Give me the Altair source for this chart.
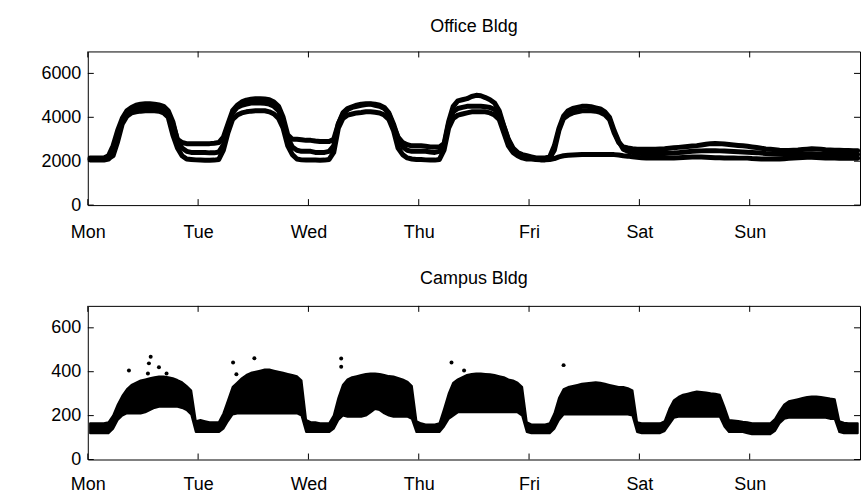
import altair as alt
import pandas as pd

# Day names shown under the weekly time axis
DAYS = ["Mon", "Tue", "Wed", "Thu", "Fri", "Sat", "Sun"]

# Office building: three overlaid weeks of hourly demand (Mon 00:00 .. Sun 23:00)
office_week_a = [
    2100, 2080, 2080, 2100, 2120, 2250, 2900, 3700, 4050, 4200, 4250, 4280, 4300, 4300, 4300, 4280, 4200, 4000, 3200, 2600, 2250, 2100, 2080, 2060,
    2050, 2040, 2040, 2050, 2080, 2500, 3300, 3900, 4100, 4200, 4250, 4280, 4300, 4300, 4300, 4250, 4150, 3950, 3500, 2700, 2300, 2100, 2060, 2050,
    2050, 2050, 2040, 2050, 2080, 2400, 3500, 3950, 4100, 4150, 4200, 4220, 4250, 4250, 4230, 4200, 4100, 3900, 3400, 2600, 2300, 2150, 2100, 2080,
    2080, 2060, 2050, 2050, 2080, 2500, 3500, 3950, 4100, 4150, 4200, 4250, 4250, 4250, 4250, 4200, 4100, 3900, 3300, 2700, 2400, 2250, 2150, 2100,
    2100, 2080, 2060, 2060, 2080, 2120, 2200, 2250, 2270, 2280, 2290, 2300, 2300, 2300, 2300, 2300, 2300, 2310, 2300, 2280, 2250, 2230, 2200, 2180,
    2160, 2150, 2140, 2140, 2140, 2140, 2140, 2150, 2160, 2170, 2180, 2190, 2190, 2190, 2180, 2170, 2160, 2160, 2150, 2150, 2150, 2140, 2140, 2140,
    2120, 2110, 2100, 2100, 2100, 2100, 2100, 2110, 2130, 2150, 2160, 2170, 2180, 2180, 2170, 2160, 2150, 2140, 2140, 2130, 2130, 2130, 2130, 2130,
]
office_week_b = [
    2150, 2150, 2150, 2150, 2250, 2700, 3400, 3950, 4300, 4450, 4550, 4600, 4620, 4620, 4600, 4560, 4500, 4300, 3800, 2950, 2600, 2450, 2400, 2400,
    2400, 2400, 2380, 2380, 2420, 2750, 3600, 4200, 4450, 4550, 4600, 4650, 4650, 4650, 4640, 4600, 4500, 4300, 3800, 3050, 2650, 2500, 2450, 2450,
    2450, 2400, 2400, 2400, 2450, 2700, 3700, 4200, 4400, 4480, 4550, 4600, 4620, 4620, 4600, 4550, 4450, 4200, 3700, 3050, 2650, 2500, 2450, 2450,
    2450, 2450, 2420, 2400, 2450, 2700, 3700, 4250, 4400, 4450, 4500, 4500, 4500, 4500, 4480, 4450, 4350, 4150, 3600, 2950, 2550, 2300, 2200, 2150,
    2150, 2100, 2100, 2100, 2150, 2500, 3400, 3950, 4100, 4200, 4250, 4300, 4300, 4300, 4280, 4220, 4120, 3900, 3300, 2850, 2650, 2600, 2570, 2550,
    2540, 2540, 2540, 2550, 2560, 2570, 2590, 2610, 2630, 2650, 2670, 2690, 2710, 2740, 2770, 2800, 2810, 2800, 2780, 2760, 2740, 2720, 2700, 2680,
    2650, 2620, 2590, 2560, 2540, 2520, 2500, 2490, 2490, 2500, 2510, 2530, 2550, 2570, 2560, 2540, 2520, 2510, 2500, 2500, 2490, 2490, 2480, 2480,
]
office_week_c = [
    2050, 2050, 2050, 2050, 2100, 2400, 3200, 3800, 4150, 4300, 4400, 4450, 4450, 4450, 4430, 4400, 4350, 4150, 3700, 3000, 2850, 2800, 2800, 2800,
    2800, 2800, 2800, 2820, 2850, 3100, 3700, 4300, 4550, 4700, 4780, 4820, 4850, 4850, 4830, 4800, 4700, 4500, 4000, 3200, 3000, 3000, 2980, 2950,
    2950, 2920, 2900, 2900, 2900, 3000, 3700, 4150, 4350, 4450, 4500, 4550, 4580, 4600, 4550, 4500, 4400, 4150, 3600, 3100, 2850, 2750, 2700, 2700,
    2700, 2680, 2650, 2650, 2650, 2800, 3800, 4500, 4750, 4800, 4850, 4950, 5000, 4980, 4900, 4800, 4650, 4300, 3600, 3000, 2600, 2400, 2300, 2250,
    2200, 2150, 2150, 2150, 2200, 2700, 3500, 4050, 4300, 4400, 4450, 4500, 4500, 4480, 4430, 4380, 4250, 4000, 3400, 2900, 2550, 2450, 2400, 2370,
    2350, 2350, 2350, 2350, 2350, 2350, 2360, 2370, 2390, 2410, 2430, 2450, 2460, 2470, 2480, 2480, 2480, 2470, 2460, 2450, 2440, 2430, 2420, 2410,
    2400, 2390, 2370, 2350, 2340, 2330, 2320, 2310, 2310, 2310, 2320, 2330, 2340, 2340, 2330, 2320, 2310, 2310, 2310, 2310, 2310, 2310, 2310, 2310,
]

# Campus building: hourly spread (lowest and highest reading) across the overlaid weeks
campus_low = [
    120, 120, 120, 120, 120, 140, 180, 200, 210, 210, 210, 210, 215, 225, 235, 240, 240, 240, 240, 240, 235, 225, 205, 125,
    125, 125, 125, 125, 125, 140, 175, 205, 210, 210, 210, 210, 210, 210, 210, 210, 210, 210, 210, 210, 210, 210, 200, 125,
    125, 125, 125, 125, 125, 140, 180, 200, 195, 195, 195, 195, 200, 215, 230, 225, 210, 200, 195, 195, 195, 195, 185, 125,
    125, 125, 125, 125, 125, 150, 185, 200, 215, 215, 215, 215, 215, 215, 215, 215, 215, 215, 215, 215, 215, 215, 200, 125,
    120, 120, 120, 120, 120, 140, 180, 205, 205, 205, 205, 205, 205, 205, 205, 205, 205, 205, 205, 205, 205, 205, 200, 125,
    120, 120, 120, 120, 120, 130, 160, 190, 195, 195, 195, 195, 195, 195, 195, 195, 195, 195, 150, 125, 125, 125, 125, 120,
    115, 115, 115, 115, 115, 130, 165, 185, 190, 190, 190, 190, 190, 190, 190, 190, 190, 185, 185, 125, 120, 120, 120, 120,
]
campus_high = [
    165, 165, 165, 165, 170, 200, 250, 290, 320, 340, 350, 360, 365, 370, 375, 378, 378, 375, 370, 362, 352, 335, 315, 175,
    180, 175, 170, 170, 170, 210, 270, 330, 350, 370, 385, 395, 400, 405, 410, 410, 405, 400, 395, 390, 385, 380, 360, 180,
    170, 170, 165, 165, 165, 200, 280, 340, 365, 375, 380, 385, 390, 392, 392, 390, 385, 380, 378, 372, 365, 355, 335, 175,
    165, 160, 160, 160, 165, 230, 300, 350, 365, 375, 385, 390, 392, 392, 390, 388, 385, 380, 375, 365, 360, 350, 330, 170,
    160, 160, 160, 160, 165, 210, 280, 320, 330, 335, 340, 345, 348, 350, 352, 350, 345, 340, 335, 330, 330, 325, 315, 170,
    165, 165, 165, 165, 165, 175, 230, 270, 285, 295, 300, 305, 310, 308, 305, 302, 300, 295, 240, 180, 178, 175, 172, 170,
    165, 165, 165, 165, 165, 185, 220, 250, 265, 270, 275, 280, 285, 287, 287, 285, 282, 278, 275, 175, 168, 165, 165, 165,
]
# Isolated spikes above the daytime campus band (day of week, kW)
campus_spike_day = [0.373, 0.570, 0.554, 0.545, 0.645, 0.714, 1.317, 1.510, 1.347, 2.297, 2.297, 3.297, 3.411, 4.313]
campus_spike_kw = [405, 468, 438, 392, 420, 392, 442, 461, 388, 460, 423, 442, 405, 430]

OFFICE_TICKS = [0, 2000, 4000, 6000]
CAMPUS_TICKS = [0, 200, 400, 600]

FONT = "Liberation Sans"
FONT_SIZE = 18
W, H = 774, 154
TICK = 6


def hour_centres(n):
    return [(h + 0.5) / 24 for h in range(n)]


office_df = pd.concat(
    [
        pd.DataFrame({"day": hour_centres(len(v)), "kw": v, "week": name})
        for name, v in [("a", office_week_a), ("b", office_week_b), ("c", office_week_c)]
    ]
)
campus_df = pd.DataFrame({"day": hour_centres(len(campus_low)), "low": campus_low, "high": campus_high})
spike_df = pd.DataFrame({"day": campus_spike_day, "kw": campus_spike_kw})
xtick_df = pd.DataFrame({"day": list(range(len(DAYS)))})

label_expr = "[" + ",".join("'%s'" % d for d in DAYS) + "][datum.value]"
x_scale = alt.Scale(domain=[0, 7], nice=False, zero=False)


def x_axis_for(pad):
    return alt.Axis(values=list(range(len(DAYS))), labelExpr=label_expr, title=None, grid=False,
                    domain=False, ticks=False, labelPadding=pad, labelFont=FONT,
                    labelFontSize=FONT_SIZE, labelColor="black", labelFlush=False,
                    labelOverlap=False)


def y_axis_for(values):
    return alt.Axis(values=values, format="d", title=None, grid=False, domain=False, ticks=False,
                    labelPadding=7, labelFont=FONT, labelFontSize=FONT_SIZE, labelColor="black",
                    labelFlush=False, labelOverlap=False)


def frame_ticks(x_axis, y_field_scale, y_axis, y_values):
    """Inward tick marks on all four sides of the boxed panel."""
    ytick_df = pd.DataFrame({"v": y_values})
    x_enc = alt.X("day:Q", scale=x_scale, axis=x_axis)
    y_enc = alt.Y("v:Q", scale=y_field_scale, axis=y_axis)
    bottom = alt.Chart(xtick_df).mark_rule(color="black", strokeWidth=1).encode(
        x=x_enc, y=alt.value(H), y2=alt.value(H - TICK))
    top = alt.Chart(xtick_df).mark_rule(color="black", strokeWidth=1).encode(
        x=x_enc, y=alt.value(0), y2=alt.value(TICK))
    left = alt.Chart(ytick_df).mark_rule(color="black", strokeWidth=1).encode(
        y=y_enc, x=alt.value(0), x2=alt.value(TICK))
    right = alt.Chart(ytick_df).mark_rule(color="black", strokeWidth=1).encode(
        y=y_enc, x=alt.value(W), x2=alt.value(W - TICK))
    return [bottom, top, left, right]


def panel_title(text, offset):
    return alt.TitleParams(text, font=FONT, fontSize=FONT_SIZE, fontWeight="normal", color="black",
                           anchor="middle", offset=offset)


# Office panel: each week drawn as a heavy black trace
office_x_axis = x_axis_for(18)
office_y_scale = alt.Scale(domain=[0, 7000], nice=False)
office_y_axis = y_axis_for(OFFICE_TICKS)
office_lines = alt.Chart(office_df).mark_line(
    color="black", strokeWidth=5, strokeCap="round", strokeJoin="round"
).encode(
    x=alt.X("day:Q", scale=x_scale, axis=office_x_axis),
    y=alt.Y("kw:Q", scale=office_y_scale, axis=office_y_axis),
    detail="week:N",
)
office = alt.layer(
    office_lines, *frame_ticks(office_x_axis, office_y_scale, office_y_axis, OFFICE_TICKS)
).properties(width=W, height=H, title=panel_title("Office Bldg", 15))

# Campus panel: filled band between daily low and high readings, plus spikes
campus_x_axis = x_axis_for(16)
campus_y_scale = alt.Scale(domain=[0, 700], nice=False)
campus_y_axis = y_axis_for(CAMPUS_TICKS)
campus_band = alt.Chart(campus_df).mark_area(
    color="black", stroke="black", strokeWidth=2, strokeJoin="round"
).encode(
    x=alt.X("day:Q", scale=x_scale, axis=campus_x_axis),
    y=alt.Y("low:Q", scale=campus_y_scale, axis=campus_y_axis),
    y2="high:Q",
)
campus_spikes = alt.Chart(spike_df).mark_circle(color="black", size=16, opacity=1).encode(
    x=alt.X("day:Q", scale=x_scale, axis=campus_x_axis),
    y=alt.Y("kw:Q", scale=campus_y_scale, axis=campus_y_axis),
)
campus = alt.layer(
    campus_band, campus_spikes,
    *frame_ticks(campus_x_axis, campus_y_scale, campus_y_axis, CAMPUS_TICKS)
).properties(width=W, height=H, title=panel_title("Campus Bldg", 17))

chart = alt.vconcat(office, campus, spacing=28).properties(
    padding={"left": 40, "top": 17, "right": 4, "bottom": 0},
    background="white",
).configure_view(stroke="black", strokeWidth=1)

chart.save("out.html", embed_options={"renderer": "svg", "actions": False})
